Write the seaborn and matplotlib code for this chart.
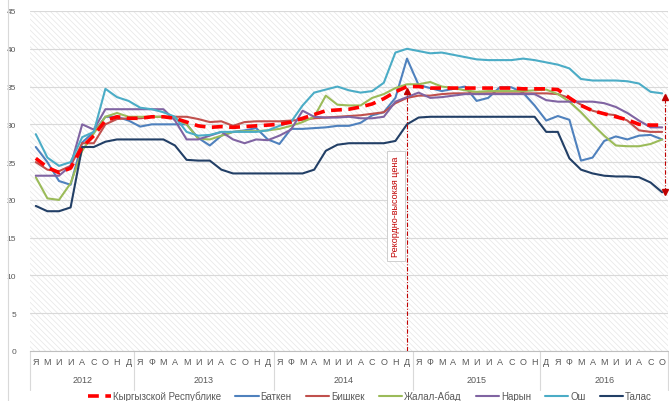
import numpy as np
import pandas as pd
import matplotlib
matplotlib.use("Agg")
import matplotlib.pyplot as plt
import matplotlib.transforms as mtransforms
from matplotlib.patches import Rectangle
from matplotlib.lines import Line2D
import seaborn as sns

# Monthly prices, Jan 2012 .. Oct 2016 (as labelled on the source chart)
years = ["2012", "2013", "2014", "2015", "2016"]
months_2012 = ["Я", "М", "И", "И", "А", "С", "О", "Н", "Д"]
months_2013 = ["Я", "Ф", "М", "А", "М", "И", "И", "А", "С", "О", "Н", "Д"]
months_2014 = ["Я", "Ф", "М", "А", "М", "И", "И", "А", "С", "О", "Н", "Д"]
months_2015 = ["Я", "Ф", "М", "А", "М", "И", "И", "А", "С", "О", "Н"]
months_2016 = ["Д", "Я", "Ф", "М", "А", "М", "И", "И", "А", "С", "О"]

kr = [25.5, 24.3, 23.6, 24.2, 27.0, 28.5, 30.5, 31.0, 30.8, 30.8,
      31.0, 31.0, 30.8, 30.3, 29.8, 29.6, 29.7, 29.6, 29.7, 29.8,
      29.9, 30.0, 30.3, 30.8, 31.3, 31.8, 31.9, 32.0, 32.3, 32.7,
      33.4, 34.3, 35.0, 35.0, 34.8, 34.8, 34.8, 34.8, 34.8, 34.8,
      34.8, 34.8, 34.7, 34.7, 34.7, 34.6, 33.5, 32.5, 31.8, 31.4,
      31.0, 30.6, 30.0, 29.9, 29.9]
batken = [27.0, 25.0, 22.5, 22.0, 27.6, 29.0, 31.0, 31.0, 30.5, 29.7,
          30.0, 30.0, 30.0, 30.0, 28.2, 27.2, 28.5, 29.0, 29.2, 29.5,
          28.0, 27.4, 29.4, 29.4, 29.5, 29.6, 29.8, 29.8, 30.2, 31.2,
          31.6, 33.5, 38.7, 35.2, 34.8, 34.4, 34.7, 35.0, 33.1, 33.5,
          34.9, 34.9, 34.2, 32.5, 30.5, 31.1, 30.6, 25.2, 25.6, 27.8,
          28.4, 28.0, 28.5, 28.6, 28.0]
bishkek = [25.0, 24.0, 23.8, 24.5, 27.5, 27.5, 30.0, 30.7, 30.8, 30.8,
           31.0, 31.0, 31.0, 31.0, 30.7, 30.3, 30.4, 29.8, 30.3, 30.4,
           30.4, 30.4, 30.5, 30.6, 30.8, 30.9, 31.0, 31.1, 31.2, 31.4,
           31.6, 32.8, 33.5, 33.8, 33.8, 34.0, 34.1, 34.1, 34.1, 34.1,
           34.1, 34.1, 34.1, 34.1, 34.1, 34.0, 33.5, 32.6, 31.8, 31.4,
           31.2, 30.5, 29.2, 29.0, 29.0]
jalal_abad = [23.0, 20.2, 20.0, 22.2, 26.5, 28.8, 31.0, 31.5, 31.0, 31.0,
              31.0, 31.0, 30.8, 30.0, 28.1, 28.0, 28.5, 29.0, 29.1, 29.1,
              29.2, 29.4, 29.8, 30.3, 31.0, 33.8, 32.6, 32.5, 32.5, 33.5,
              34.0, 34.8, 35.3, 35.3, 35.6, 35.0, 34.8, 34.5, 34.3, 34.4,
              34.4, 34.4, 34.4, 34.5, 34.6, 34.0, 33.0, 31.6, 30.0, 28.5,
              27.2, 27.1, 27.1, 27.4, 28.0]
naryn = [23.2, 23.2, 23.2, 24.5, 30.0, 29.3, 32.0, 32.0, 32.0, 32.0,
         32.0, 32.0, 30.5, 28.0, 28.0, 28.5, 29.0, 28.0, 27.5, 28.0,
         27.9, 28.5, 29.3, 31.8, 31.0, 30.9, 30.9, 31.0, 30.8, 30.8,
         31.0, 33.0, 33.6, 34.2, 33.5, 33.6, 33.8, 34.0, 34.0, 34.0,
         34.0, 34.0, 34.0, 34.0, 33.2, 33.0, 33.0, 33.0, 33.0, 32.8,
         32.3, 31.5, 30.5, 29.6, 29.6]
osh = [28.7, 25.6, 24.5, 25.0, 28.3, 29.0, 34.7, 33.6, 33.1, 32.2,
       32.0, 31.6, 31.0, 29.0, 28.5, 28.6, 29.0, 29.0, 29.0, 29.0,
       29.2, 29.8, 30.3, 32.5, 34.2, 34.6, 35.0, 34.5, 34.2, 34.4,
       35.5, 39.5, 40.0, 39.7, 39.4, 39.5, 39.2, 38.9, 38.6, 38.5,
       38.5, 38.5, 38.7, 38.5, 38.2, 37.9, 37.4, 36.0, 35.8, 35.8,
       35.8, 35.7, 35.4, 34.3, 34.1]
talas = [19.2, 18.5, 18.5, 19.0, 27.0, 27.0, 27.7, 28.0, 28.0, 28.0,
         28.0, 28.0, 27.2, 25.3, 25.2, 25.2, 24.0, 23.5, 23.5, 23.5,
         23.5, 23.5, 23.5, 23.5, 24.0, 26.5, 27.3, 27.5, 27.5, 27.5,
         27.5, 27.8, 30.0, 30.9, 31.0, 31.0, 31.0, 31.0, 31.0, 31.0,
         31.0, 31.0, 31.0, 31.0, 29.0, 29.0, 25.5, 24.0, 23.5, 23.2,
         23.1, 23.1, 23.0, 22.3, 21.0]

kr_name = "Кыргызской Республике"
regions = {"Баткен": batken, "Бишкек": bishkek, "Жалал-Абад": jalal_abad,
           "Нарын": naryn, "Ош": osh, "Талас": talas}
colors = {"Баткен": "#4f81bd", "Бишкек": "#c0504d", "Жалал-Абад": "#9bbb59",
          "Нарын": "#8064a2", "Ош": "#4bacc6", "Талас": "#223f66"}
red = "#ff0000"
grey_txt = "#595959"

month_groups = [months_2012, months_2013, months_2014, months_2015, months_2016]
month_labels = [m for g in month_groups for m in g]
n = len(month_labels)
idx = np.arange(n)

rows = []
for name, vals in regions.items():
    for i, v in zip(idx, vals):
        rows.append((name, i, v))
df = pd.DataFrame(rows, columns=["region", "month", "price"])

sns.set_style("white")
plt.rcParams["font.family"] = ["Liberation Sans", "DejaVu Sans"]
plt.rcParams["hatch.linewidth"] = 0.5

fig = plt.figure(figsize=(6.69, 4.02), dpi=100)
ax = fig.add_axes([30 / 669, 1 - 352 / 402, 638 / 669, 340 / 402])

# hatched plot-area background
ax.add_patch(Rectangle((0, 0), 1, 1, transform=ax.transAxes, facecolor="white",
                       edgecolor="#e6e6e6", hatch="\\" * 6, lw=0, zorder=0))

sns.lineplot(data=df, x="month", y="price", hue="region", palette=colors,
             linewidth=1.5, legend=False, ax=ax, zorder=3)
sns.lineplot(x=idx, y=kr, color=red, linewidth=2.6, dashes=False,
             linestyle=(0, (3, 1.8)), ax=ax, zorder=4)

ax.set_xlim(-0.5, n - 0.5)
ax.set_ylim(0, 45)
ax.set_yticks(range(0, 50, 5))
ax.set_axisbelow(True)
ax.yaxis.grid(True, color="#d9d9d9", lw=0.8)
ax.xaxis.grid(False)
for s in ["top", "right", "left"]:
    ax.spines[s].set_visible(False)
ax.spines["bottom"].set_color("#bfbfbf")
ax.spines["bottom"].set_linewidth(0.8)
ax.set_xlabel("")
ax.set_ylabel("")
ax.set_xticks(idx)
ax.set_xticklabels(month_labels)
ax.tick_params(axis="x", length=0, pad=4, labelsize=6.5, labelcolor=grey_txt)
ax.tick_params(axis="y", length=0, pad=10, labelsize=6, labelcolor=grey_txt)

# year labels and separators below the axis
trans = mtransforms.blended_transform_factory(ax.transData, ax.transAxes)
start = -0.5
for yr, g in zip(years, month_groups):
    end = start + len(g)
    ax.text((start + end) / 2, -0.085, yr, transform=trans, ha="center",
            va="center", fontsize=6.5, color=grey_txt)
    ax.add_line(Line2D([start, start], [0, -0.115], transform=trans,
                       color="#d9d9d9", lw=0.8, clip_on=False))
    start = end
ax.add_line(Line2D([start, start], [0, -0.115], transform=trans,
                   color="#d9d9d9", lw=0.8, clip_on=False))

# record-high marker
rec = int(np.argmax(kr))
rec_top = kr[rec] - 0.4
ax.plot([rec, rec], [0, rec_top], color="#c00000", lw=0.8,
        linestyle=(0, (4, 1.5, 1, 1.5)), zorder=5)
ax.plot(rec, rec_top - 0.2, marker="^", ms=4, color="#c00000", zorder=5)
ax.text(rec - 0.95, 19.2, "Рекордно-высокая цена", rotation=90, ha="center",
        va="center", fontsize=6.5, color="#c00000", zorder=6,
        bbox=dict(boxstyle="square,pad=0.5", fc="white", ec="#c8c8c8", lw=0.6))

# spread arrow at the end of the period
xe = n - 1 + 0.25
top = osh[-1] - 0.5
bot = talas[-1] + 0.1
ax.plot([xe, xe], [bot, top], color="#c00000", lw=0.8,
        linestyle=(0, (4, 1.5, 1, 1.5)), zorder=5)
ax.plot(xe, top, marker="^", ms=4, color="#c00000", zorder=5)
ax.plot(xe, bot, marker="v", ms=4, color="#c00000", zorder=5)

# legend
handles = [Line2D([], [], color=red, lw=2.6, linestyle=(0, (3, 1.8)))]
handles += [Line2D([], [], color=colors[k], lw=1.5) for k in regions]
labels = [kr_name] + list(regions)
fig.legend(handles, labels, loc="center", bbox_to_anchor=(0.553, 1 - 397 / 402),
           ncol=7, frameon=False, fontsize=7, handlelength=2.4,
           handletextpad=0.2, columnspacing=1.45, labelcolor=grey_txt)

# thin outer frame line at the left
fig.add_artist(Line2D([8 / 669, 8 / 669], [0, 1], transform=fig.transFigure,
                      color="#d9d9d9", lw=0.8))

fig.savefig("out.png", dpi=100)
